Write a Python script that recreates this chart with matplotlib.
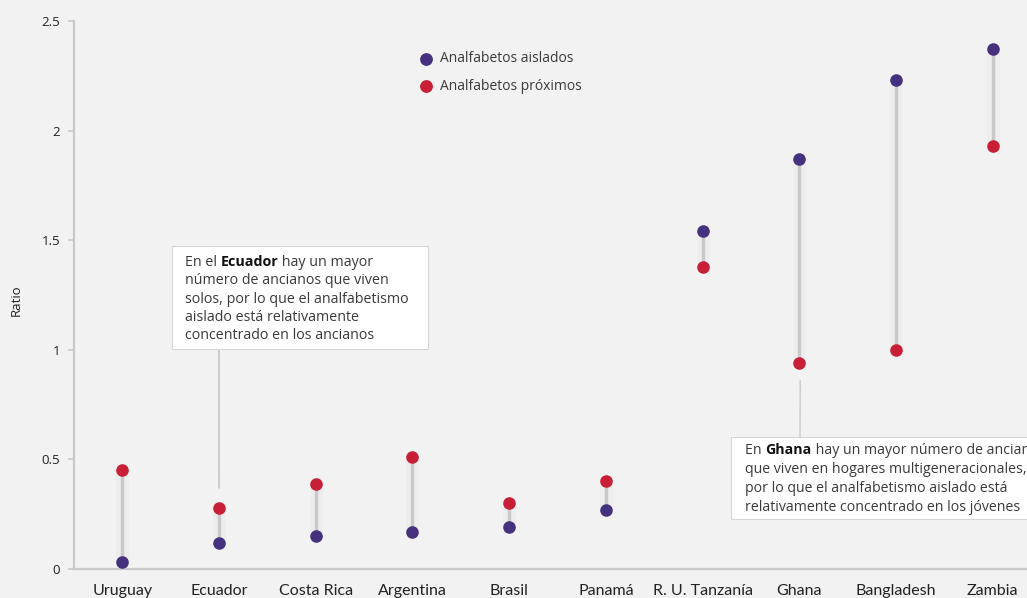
import matplotlib
matplotlib.use("Agg")
import matplotlib.pyplot as plt
from matplotlib.patches import Rectangle
from matplotlib.lines import Line2D
from matplotlib import font_manager

countries = ["Uruguay", "Ecuador", "Costa Rica", "Argentina", "Brasil",
             "Panamá", "R. U. Tanzanía", "Ghana", "Bangladesh", "Zambia"]
aislados = [0.03, 0.12, 0.15, 0.17, 0.19, 0.27, 1.54, 1.87, 2.23, 2.37]
proximos = [0.45, 0.28, 0.39, 0.51, 0.30, 0.40, 1.38, 0.94, 1.00, 1.93]
yticks = [0, 0.5, 1, 1.5, 2, 2.5]
ytick_labels = ["0", "0.5", "1", "1.5", "2", "2.5"]

PURPLE = "#46317f"
RED = "#c81f37"
GRID = "#c9c9c9"
BG = "#f2f2f2"
TXT = "#3a3a3a"

available = {f.name for f in font_manager.fontManager.ttflist}
body_font = "Open Sans" if "Open Sans" in available else "DejaVu Sans"
narrow_font = "Liberation Sans Narrow" if "Liberation Sans Narrow" in available else "Lato"

W, H = 1027, 598
fig = plt.figure(figsize=(W / 100, H / 100), dpi=100, facecolor=BG)


def fx(px):
    return px / W


def fy(py):
    return 1 - py / H


ax = fig.add_axes([fx(74), fy(569), 1 - fx(74), fy(21) - fy(569)])
ax.set_facecolor(BG)
ax.set_xlim(-0.5, 9.355)
ax.set_ylim(0, 2.5)

for s in ["top", "right"]:
    ax.spines[s].set_visible(False)
for s in ["left", "bottom"]:
    ax.spines[s].set_color(GRID)
    ax.spines[s].set_linewidth(1.6)

ax.set_yticks(yticks)
ax.set_yticklabels(ytick_labels, fontsize=9.5, color="#222222", family=body_font)
ax.tick_params(axis="y", length=4, width=1.2, color=GRID, pad=6)
ax.set_xticks(range(len(countries)))
ax.set_xticklabels(countries, fontsize=11.5, color="#222222", family=narrow_font)
ax.tick_params(axis="x", length=0, pad=11)
fig.text(fx(16), fy(300), "Ratio", rotation=90, fontsize=9.5, color="#222222",
         family=body_font, ha="center", va="center")

# connectors with a faint halo, then the two series of dots
for i, (a, p) in enumerate(zip(aislados, proximos)):
    lo, hi = min(a, p), max(a, p)
    ax.plot([i, i], [lo, hi], color="#ededed", lw=9, solid_capstyle="butt", zorder=1)
    ax.plot([i, i], [lo, hi], color=GRID, lw=2.4, solid_capstyle="butt", zorder=2)

xs = list(range(len(countries)))
ax.scatter(xs, aislados, s=82, color=PURPLE, zorder=3, linewidths=0)
ax.scatter(xs, proximos, s=82, color=RED, zorder=3, linewidths=0)

# legend
fig.add_artist(Line2D([fx(426)], [fy(59)], marker="o", ms=8.2, color=PURPLE, lw=0))
fig.add_artist(Line2D([fx(426)], [fy(86)], marker="o", ms=8.2, color=RED, lw=0))
fig.text(fx(440), fy(59), "Analfabetos aislados", fontsize=10, color=TXT,
         family=body_font, va="center", ha="left")
fig.text(fx(440), fy(86), "Analfabetos próximos", fontsize=10, color=TXT,
         family=body_font, va="center", ha="left")


def draw_rich(x0, y0, lines, dy, size=10):
    """Draw lines of text; each line is a list of (text, bold) pieces."""
    fig.canvas.draw()
    r = fig.canvas.get_renderer()
    for k, pieces in enumerate(lines):
        cx = x0
        for text, bold in pieces:
            t = fig.text(fx(cx), fy(y0 + k * dy), text, fontsize=size,
                         color="#111111" if bold else TXT, family=body_font,
                         fontweight="bold" if bold else "normal",
                         va="baseline", ha="left", zorder=5)
            bb = t.get_window_extent(renderer=r)
            cx += bb.width


# Ecuador note
fig.add_artist(Rectangle((fx(172), fy(349)), fx(428) - fx(172), fy(246) - fy(349),
                         transform=fig.transFigure, facecolor="white",
                         edgecolor="#d6d6d6", lw=0.8, zorder=4))
ax.annotate("", xy=(1, 0.37), xytext=(fx(219), fy(349)), textcoords="figure fraction",
            arrowprops=dict(arrowstyle="-", color=GRID, lw=1.3, shrinkA=0, shrinkB=0))
draw_rich(185, 266, [
    [("En el ", False), ("Ecuador", True), (" hay un mayor", False)],
    [("número de ancianos que viven", False)],
    [("solos, por lo que el analfabetismo", False)],
    [("aislado está relativamente", False)],
    [("concentrado en los ancianos", False)],
], 18.3, size=10.3)

# Ghana note
fig.add_artist(Rectangle((fx(731), fy(519)), fx(1040) - fx(731), fy(437) - fy(519),
                         transform=fig.transFigure, facecolor="white",
                         edgecolor="#d6d6d6", lw=0.8, zorder=4))
ax.annotate("", xy=(7.01, 0.86), xytext=(fx(800), fy(437)), textcoords="figure fraction",
            arrowprops=dict(arrowstyle="-", color=GRID, lw=1.0, shrinkA=0, shrinkB=0))
draw_rich(745, 454, [
    [("En ", False), ("Ghana", True), (" hay un mayor número de ancianos", False)],
    [("que viven en hogares multigeneracionales,", False)],
    [("por lo que el analfabetismo aislado está", False)],
    [("relativamente concentrado en los jóvenes", False)],
], 18.9, size=10.2)

fig.savefig("out.png", dpi=100, facecolor=BG)
